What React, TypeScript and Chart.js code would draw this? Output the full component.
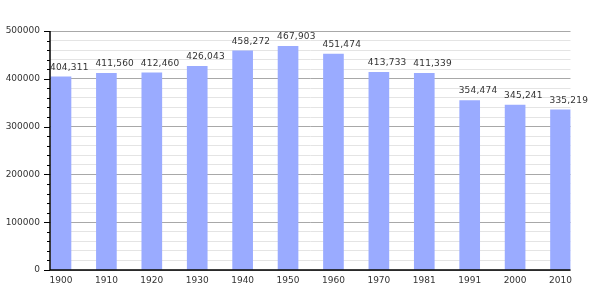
import React, { useEffect, useRef } from "react";
import { Chart, registerables } from "chart.js";

Chart.register(...registerables);

const years = ["1900", "1910", "1920", "1930", "1940", "1950", "1960", "1970", "1981", "1991", "2000", "2010"];
const population = [404311, 411560, 412460, 426043, 458272, 467903, 451474, 413733, 411339, 354474, 345241, 335219];
const yTicks = [0, 100000, 200000, 300000, 400000, 500000];

const FONT = "DejaVu Sans";

const tickPlugin = {
  id: "customTicks",
  afterDatasetsDraw(chart: any) {
    const ctx = chart.ctx;
    const y = chart.scales.y;
    const area = chart.chartArea;
    ctx.save();
    ctx.strokeStyle = "#000";
    ctx.lineWidth = 1;
    for (let v = 0; v <= 500000; v += 20000) {
      const py = Math.round(y.getPixelForValue(v)) + 0.5;
      const major = v % 100000 === 0;
      ctx.beginPath();
      ctx.moveTo(area.left - (major ? 6 : 3), py);
      ctx.lineTo(area.left, py);
      ctx.stroke();
    }
    // axis lines on top of bars
    ctx.lineWidth = 1.5;
    ctx.beginPath();
    ctx.moveTo(area.left, area.top);
    ctx.lineTo(area.left, area.bottom);
    ctx.lineTo(area.right, area.bottom);
    ctx.stroke();
    // data labels, left-aligned on each bar's left edge
    const meta = chart.getDatasetMeta(0);
    ctx.fillStyle = "#333";
    ctx.font = `9px "${FONT}"`;
    ctx.letterSpacing = "0.2px";
    ctx.textAlign = "left";
    ctx.textBaseline = "bottom";
    meta.data.forEach((el: any, i: number) => {
      ctx.fillText(population[i].toLocaleString("en-US"), el.x - el.width / 2 - 1, el.y - 5);
    });
    ctx.restore();
  },
};

export default function App() {
  const ref = useRef<HTMLCanvasElement>(null);
  useEffect(() => {
    document.body.style.margin = "0";
    const chart = new Chart(ref.current!, {
      type: "bar",
      data: {
        datasets: [
          {
            data: population.map((v, i) => ({ x: i, y: v })),
            backgroundColor: "#9aabff",
            borderWidth: 0,
            barThickness: 20,
          },
        ],
      },
      options: {
        animation: false,
        responsive: false,
        layout: { padding: { top: 31, right: 29.5, left: 0, bottom: 0 } },
        plugins: { legend: { display: false }, tooltip: { enabled: false } },
        scales: {
          x: {
            type: "linear",
            min: -0.242,
            max: 11.22,
            offset: false,
            afterBuildTicks: (scale: any) => {
              scale.ticks = years.map((_, i) => ({ value: i }));
            },
            afterFit: (scale: any) => {
              scale.height = 30;
            },
            grid: { display: false, drawTicks: false },
            border: { display: false },
            ticks: {
              autoSkip: false,
              maxRotation: 0,
              padding: 5,
              color: "#333",
              font: { family: FONT, size: 9 },
              callback: (v: any) => years[v] ?? "",
            },
          },
          y: {
            min: 0,
            max: 500000,
            afterBuildTicks: (scale: any) => {
              const t = [];
              for (let v = 0; v <= 500000; v += 20000) t.push({ value: v });
              scale.ticks = t;
            },
            afterFit: (scale: any) => {
              scale.width = 50;
            },
            grid: {
              drawTicks: false,
              color: (c: any) => (c.tick && c.tick.value % 100000 === 0 ? "#a8a8a8" : "#e4e4e4"),
              lineWidth: 1,
            },
            border: { display: false },
            ticks: {
              autoSkip: false,
              padding: 10,
              color: "#333",
              font: { family: FONT, size: 9 },
              callback: (v: any) => (yTicks.includes(v) ? String(v) : ""),
            },
          },
        },
      },
      plugins: [tickPlugin],
    } as any);
    return () => chart.destroy();
  }, []);
  return (
    <div style={{ width: 600, height: 300 }}>
      <canvas ref={ref} width={600} height={300} style={{ display: "block" }} />
    </div>
  );
}
